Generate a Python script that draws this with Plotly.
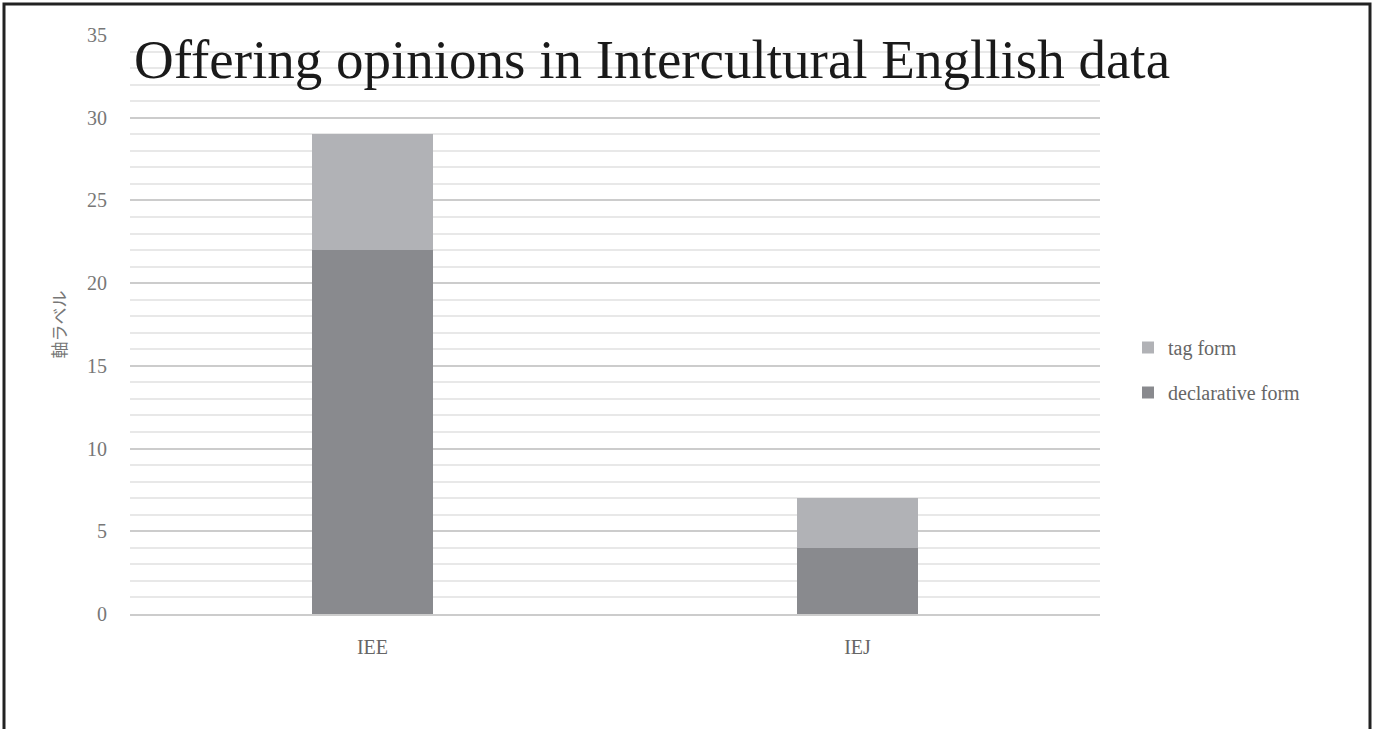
import plotly.graph_objects as go

categories = ["IEE", "IEJ"]
declarative_form = [22, 4]
tag_form = [7, 3]

y_ticks = [0, 5, 10, 15, 20, 25, 30, 35]

serif = "Liberation Serif, DejaVu Serif, serif"
jp = "Noto Sans CJK JP, sans-serif"

W, H = 1375, 729
L, R, T, B = 130, 275, 35, 115
pw, ph = W - L - R, H - T - B


def px_x(x):
    return (x - L) / pw


def px_y(y):
    return (H - B - y) / ph


fig = go.Figure()
fig.add_trace(go.Bar(
    x=categories, y=declarative_form, name="declarative form",
    marker=dict(color="#898a8e", line=dict(width=0)),
    legendgroup="d", legendrank=2,
))
fig.add_trace(go.Bar(
    x=categories, y=tag_form, name="tag form",
    marker=dict(color="#b1b2b6", line=dict(width=0)),
    legendgroup="t", legendrank=1,
))

fig.update_layout(
    width=W, height=H,
    margin=dict(l=L, r=R, t=T, b=B, pad=0),
    barmode="stack",
    bargap=0.75,
    plot_bgcolor="white",
    paper_bgcolor="white",
    title=dict(
        text="Offering opinions in Intercultural Engllish data",
        font=dict(family=serif, size=55, color="#1a1a1a"),
        x=px_x(652), xref="paper", xanchor="center",
        y=px_y(59), yref="paper", yanchor="middle",
    ),
    legend=dict(
        x=px_x(1128), y=px_y(370), xanchor="left", yanchor="middle",
        traceorder="grouped", tracegroupgap=16,
        font=dict(family=serif, size=20, color="#666666"),
        itemwidth=30, bgcolor="rgba(0,0,0,0)",
    ),
    xaxis=dict(
        showgrid=False, showline=True, linecolor="#cccccc", linewidth=1.5,
        tickfont=dict(family=serif, size=20, color="#666666"),
        ticks="", ticklabelstandoff=14,
    ),
    yaxis=dict(
        range=[0, 35], tickvals=y_ticks,
        showgrid=True, gridcolor="#cccccc", gridwidth=1.5,
        minor=dict(dtick=1, showgrid=True, gridcolor="#e8e8e8", gridwidth=1.5),
        zeroline=False, showline=False,
        tickfont=dict(family=serif, size=20, color="#777777"),
        ticks="", ticklabelstandoff=22,
        title=dict(text="軸ラベル", font=dict(family=jp, size=17, color="#777777"),
                   standoff=16),
    ),
    shapes=[dict(
        type="rect", xref="paper", yref="paper",
        x0=px_x(4), x1=px_x(1370), y0=px_y(760), y1=px_y(4),
        line=dict(color="#222222", width=3), fillcolor="rgba(0,0,0,0)",
        layer="above",
    )],
)

fig.write_html("out.html")
